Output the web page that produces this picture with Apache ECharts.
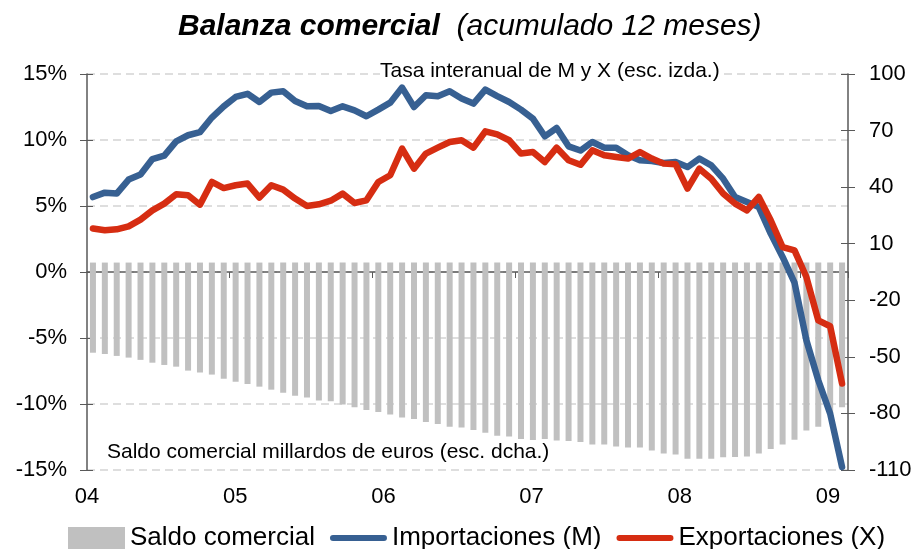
<!DOCTYPE html>
<html>
<head>
<meta charset="utf-8">
<script src="https://cdn.jsdelivr.net/npm/echarts@6/dist/echarts.min.js"></script>
<style>
  html, body { margin: 0; padding: 0; background: #fff; }
  #chart { width: 917px; height: 549px; }
</style>
</head>
<body>
<div id="chart"></div>
<script>
// meses ene-2004 .. abr-2009
var years = ['04', '05', '06', '07', '08', '09'];
var months = [];
for (var y = 0; y < years.length; y++) {
  for (var m = 1; m <= 12; m++) {
    if (years[y] === '09' && m > 4) break;
    months.push(years[y] + '-' + (m < 10 ? '0' + m : m));
  }
}

// saldo comercial, millardos de euros (esc. dcha.)
var saldo = [
  -47.8, -48.5, -49.5, -50.4, -51.6, -53.1, -54.3, -55.2, -57.3, -58.3, -59.4, -61.6,
  -63.2, -64.4, -65.8, -67.4, -69.0, -70.6, -71.6, -73.2, -73.6, -75.3, -76.7, -78.2,
  -79.2, -80.6, -82.2, -82.9, -84.5, -85.6, -87.0, -87.5, -88.8, -90.3, -91.8, -92.3,
  -93.5, -94.1, -93.5, -94.4, -94.6, -95.1, -96.5, -96.5, -97.6, -98.1, -98.1, -99.7,
  -101.3, -101.8, -104.0, -104.0, -104.0, -103.3, -103.1, -102.9, -101.3, -98.8, -96.5, -93.9,
  -89.1, -87.0, -79.9, -76.7
];

// tasa interanual importaciones (%)
var importaciones = [
  5.68, 6.01, 5.94, 7.0, 7.38, 8.56, 8.82, 9.9, 10.36, 10.6, 11.7, 12.55,
  13.26, 13.5, 12.88, 13.59, 13.69, 12.95, 12.55, 12.58, 12.2, 12.55, 12.25, 11.8,
  12.3, 12.83, 13.97, 12.5, 13.39, 13.31, 13.69, 13.14, 12.76, 13.82, 13.33, 12.88,
  12.3, 11.62, 10.28, 10.91, 9.52, 9.2, 9.85, 9.42, 9.42, 8.84, 8.46, 8.41,
  8.26, 8.33, 7.95, 8.59, 8.08, 7.07, 5.68, 5.3, 4.92, 2.91, 1.14, -0.8,
  -5.17, -8.2, -10.73, -14.77
];

// tasa interanual exportaciones (%)
var exportaciones = [
  3.29, 3.16, 3.23, 3.46, 3.97, 4.67, 5.18, 5.89, 5.81, 5.1, 6.82, 6.36,
  6.57, 6.7, 5.64, 6.57, 6.24, 5.56, 5.0, 5.13, 5.4, 5.94, 5.23, 5.43,
  6.82, 7.33, 9.35, 7.83, 8.97, 9.42, 9.85, 9.98, 9.42, 10.66, 10.43, 9.98,
  8.97, 9.09, 8.33, 9.42, 8.46, 8.12, 9.22, 8.84, 8.71, 8.59, 9.09, 8.59,
  8.21, 8.16, 6.32, 7.83, 7.07, 5.94, 5.18, 4.67, 5.68, 3.92, 1.89, 1.64,
  -0.38, -3.66, -4.11, -8.45
];

var FONT = "'Liberation Sans', Arial, sans-serif";
var axisColor = '#595959';
var blue = '#376092', red = '#d62d12';
// icono de línea gruesa con extremos redondeados para la leyenda
var lineIcon = 'path://M3,0 L54,0 A3,3 0 0 1 54,6 L3,6 A3,3 0 0 1 3,0 Z';

var chart = echarts.init(document.getElementById('chart'));
var option = {
  animation: false,
  backgroundColor: '#fff',
  textStyle: { fontFamily: FONT, color: '#000' },
  title: {
    text: '{b|Balanza comercial}{i|  (acumulado 12 meses)}',
    left: 178,
    top: 12,
    padding: 0,
    textStyle: {
      fontWeight: 'normal',
      rich: {
        b: { fontFamily: FONT, fontSize: 30, fontWeight: 'bold', fontStyle: 'italic', color: '#000' },
        i: { fontFamily: FONT, fontSize: 30, fontWeight: 'normal', fontStyle: 'italic', color: '#000' }
      }
    }
  },
  grid: { left: 87, right: 69, top: 74, bottom: 79 },
  legend: {
    left: 68,
    top: 525,
    padding: 0,
    itemWidth: 57,
    itemHeight: 22,
    itemGap: 15,
    symbolKeepAspect: true,
    textStyle: { fontFamily: FONT, fontSize: 26, color: '#000' },
    data: [
      { name: 'Saldo comercial', icon: 'rect', itemStyle: { color: '#c0c0c0' } },
      { name: 'Importaciones (M)', icon: lineIcon, itemStyle: { color: blue } },
      { name: 'Exportaciones (X)', icon: lineIcon, itemStyle: { color: red } }
    ]
  },
  xAxis: [{
    type: 'category',
    data: months,
    position: 'bottom',
    axisLine: { show: false, onZero: false },
    axisTick: { show: false },
    axisLabel: { show: false }
  }, {
    type: 'category',
    data: months,
    position: 'bottom',
    axisLine: { show: true, onZero: true, onZeroAxisIndex: 0, lineStyle: { color: axisColor, width: 1.5 } },
    axisTick: {
      show: true,
      length: 6,
      interval: function (index) { return index > 0 && index % 12 === 0; },
      lineStyle: { color: axisColor }
    },
    axisLabel: { show: false }
  }, {
    // eje solo para las etiquetas de año, espaciadas como en el original
    type: 'value',
    position: 'bottom',
    min: 0,
    max: 5.135,
    interval: 1,
    axisLine: { show: false, onZero: false },
    axisTick: { show: false },
    splitLine: { show: false },
    axisLabel: {
      fontSize: 22,
      margin: 16,
      color: '#000',
      showMaxLabel: false,
      formatter: function (value) { return years[Math.round(value)] || ''; }
    }
  }],
  yAxis: [{
    type: 'value',
    position: 'left',
    min: -15, max: 15, interval: 5,
    axisLine: { show: true, lineStyle: { color: axisColor, width: 1.5 } },
    axisTick: { show: true, length: 7, lineStyle: { color: axisColor } },
    axisLabel: { fontSize: 22, color: '#000', margin: 20, formatter: '{value}%' },
    splitLine: {
      show: true,
      lineStyle: { color: '#d4d4d4', width: 1.5, type: [8, 5] }
    }
  }, {
    type: 'value',
    position: 'right',
    min: -110, max: 100, interval: 30,
    axisLine: { show: true, lineStyle: { color: axisColor, width: 1.5 } },
    axisTick: { show: true, length: 7, lineStyle: { color: axisColor } },
    axisLabel: { fontSize: 22, color: '#000', margin: 21 },
    splitLine: { show: false }
  }, {
    type: 'value',
    position: 'left',
    min: -15, max: 15, interval: 5,
    axisLine: { show: false },
    axisTick: { show: true, inside: true, length: 6, lineStyle: { color: axisColor } },
    axisLabel: { show: false },
    splitLine: { show: false }
  }, {
    type: 'value',
    position: 'right',
    min: -110, max: 100, interval: 30,
    axisLine: { show: false },
    axisTick: { show: true, inside: true, length: 7, lineStyle: { color: axisColor } },
    axisLabel: { show: false },
    splitLine: { show: false }
  }],
  graphic: [{
    type: 'text',
    left: 380,
    top: 61,
    z: 10,
    style: {
      text: 'Tasa interanual de M y X (esc. izda.)',
      font: '21px ' + FONT,
      fill: '#000',
      backgroundColor: '#fff'
    }
  }, {
    type: 'text',
    left: 107,
    top: 442,
    z: 10,
    style: {
      text: 'Saldo comercial millardos de euros (esc. dcha.)',
      font: '21px ' + FONT,
      fill: '#000'
    }
  }],
  series: [{
    name: 'Saldo comercial',
    type: 'bar',
    xAxisIndex: 0,
    yAxisIndex: 1,
    barWidth: 6,
    itemStyle: { color: '#c0c0c0' },
    data: saldo
  }, {
    name: 'Importaciones (M)',
    type: 'line',
    xAxisIndex: 0,
    yAxisIndex: 0,
    symbol: 'none',
    lineStyle: { color: blue, width: 6.5, cap: 'round', join: 'round' },
    itemStyle: { color: blue },
    data: importaciones
  }, {
    name: 'Exportaciones (X)',
    type: 'line',
    xAxisIndex: 0,
    yAxisIndex: 0,
    symbol: 'none',
    lineStyle: { color: red, width: 6.5, cap: 'round', join: 'round' },
    itemStyle: { color: red },
    data: exportaciones
  }]
};
chart.setOption(option);
</script>
</body>
</html>
